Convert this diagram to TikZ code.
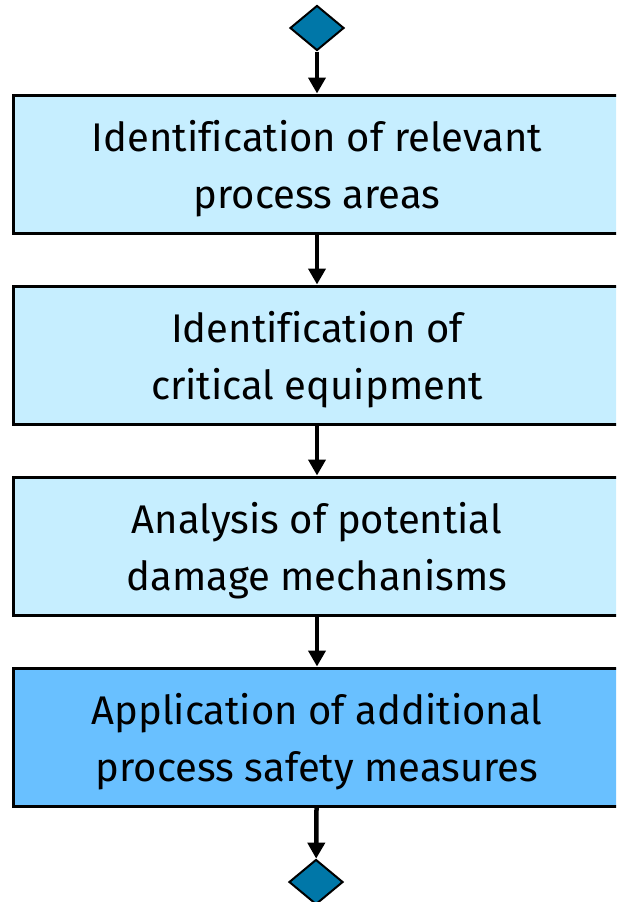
\documentclass[tikz,border=0pt]{standalone}
\usepackage{fontspec}
\setmainfont{Fira Sans}[Ligatures=NoCommon]
\usepackage{xcolor}
\usetikzlibrary{shapes.geometric, arrows.meta, positioning}

\definecolor{boxlight}{HTML}{C6EEFF}
\definecolor{boxdark}{HTML}{69C0FF}
\definecolor{gatefill}{HTML}{0077A8}

\begin{document}
\begin{tikzpicture}[x=1pt,y=-1pt,
    stepbox/.style={draw=black,line width=3pt,fill=boxlight,minimum width=608pt,
        minimum height=138pt,align=center,text depth=-9pt,
        font=\fontsize{40}{57}\selectfont},
    gate/.style={diamond,draw=black,line width=2pt,fill=gatefill,inner sep=0pt,
        minimum width=54pt,minimum height=45pt},
    flow/.style={line width=4.5pt,-{Triangle[width=17pt,length=16pt]}}]
    \useasboundingbox (0,0) rectangle (616,902);
    \clip (0,0) rectangle (616,902);

    % start and end gates
    \node[gate] (start) at (317,28) {};
    \node[gate] (stop) at (316,882) {};

    % process steps
    \node[stepbox] (areas) at (317,164) {Identification of relevant\\process areas};
    \node[stepbox] (equip) at (317,355) {Identification of\\critical equipment};
    \node[stepbox] (damage) at (317,546) {Analysis of potential\\damage mechanisms};
    \node[stepbox,fill=boxdark] (measures) at (317,737) {Application of additional\\process safety measures};

    % connectors
    \draw[flow] (start) -- (areas);
    \draw[flow] (areas) -- (equip);
    \draw[flow] (equip) -- (damage);
    \draw[flow] (damage) -- (measures);
    \draw[flow] (measures) -- (stop);
\end{tikzpicture}
\end{document}
